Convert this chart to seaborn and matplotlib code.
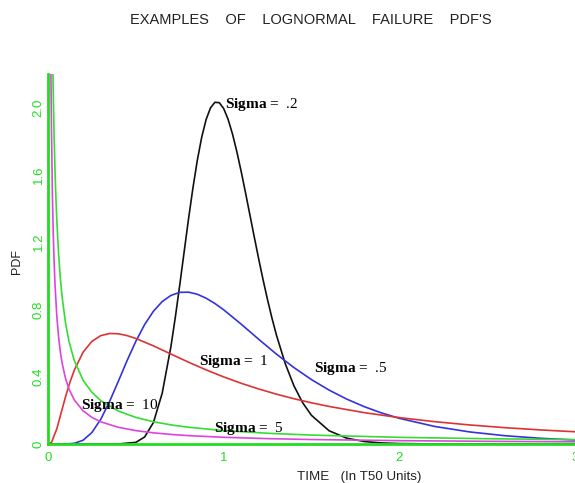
import matplotlib
matplotlib.use("Agg")
import matplotlib.pyplot as plt
import pandas as pd
import seaborn as sns

# Lognormal failure PDFs (T50 = 1), sampled along the time axis
time_s02 = [0.0, 0.4, 0.5, 0.55, 0.6, 0.65, 0.7, 0.725, 0.75, 0.775, 0.8, 0.825,
            0.85, 0.875, 0.9, 0.925, 0.95, 0.975, 1.0, 1.025, 1.05, 1.075, 1.1,
            1.125, 1.15, 1.175, 1.2, 1.225, 1.25, 1.275, 1.3, 1.35, 1.4, 1.45,
            1.5, 1.6, 1.7, 1.8, 1.9, 2.0, 2.2, 3.0]
pdf_s02 = [0.0, 0.0001, 0.0098, 0.0416, 0.1275, 0.3016, 0.5810, 0.7553, 0.9452,
           1.1425, 1.3385, 1.5223, 1.6871, 1.8242, 1.9289, 1.9986, 2.0317, 2.0295,
           1.9947, 1.9313, 1.8441, 1.7381, 1.6188, 1.4908, 1.3587, 1.2265, 1.0973,
           0.9733, 0.8566, 0.7481, 0.6489, 0.4793, 0.3459, 0.2449, 0.1702, 0.0788,
           0.0348, 0.0148, 0.0061, 0.0025, 0.0004, 0.0]

time_s05 = [0.0, 0.1, 0.15, 0.2, 0.25, 0.3, 0.35, 0.4, 0.45, 0.5, 0.55, 0.6, 0.65,
            0.7, 0.75, 0.8, 0.85, 0.9, 0.95, 1.0, 1.1, 1.2, 1.3, 1.4, 1.5, 1.6,
            1.7, 1.8, 1.9, 2.0, 2.2, 2.4, 2.6, 2.8, 3.0]
pdf_s05 = [0.0, 0.0002, 0.0040, 0.0225, 0.0684, 0.1464, 0.2514, 0.3720, 0.4954,
           0.6104, 0.7100, 0.7891, 0.8469, 0.8837, 0.9016, 0.9028, 0.8904, 0.8670,
           0.8355, 0.7979, 0.7123, 0.6222, 0.5348, 0.4544, 0.3828, 0.3206, 0.2672,
           0.2221, 0.1842, 0.1526, 0.1046, 0.0718, 0.0494, 0.0342, 0.0238]

time_s1 = [0.0, 0.02, 0.05, 0.075, 0.1, 0.125, 0.15, 0.2, 0.25, 0.3, 0.35, 0.4,
           0.45, 0.5, 0.6, 0.7, 0.8, 0.9, 1.0, 1.1, 1.2, 1.3, 1.4, 1.5, 1.6, 1.8,
           2.0, 2.2, 2.4, 2.6, 2.8, 3.0]
pdf_s1 = [0.0, 0.0095, 0.0898, 0.1857, 0.2816, 0.3674, 0.4399, 0.5463, 0.6104,
          0.6442, 0.6570, 0.6555, 0.6445, 0.6275, 0.5836, 0.5348, 0.4864, 0.4408,
          0.3989, 0.3610, 0.3270, 0.2965, 0.2693, 0.2450, 0.2233, 0.1865, 0.1569,
          0.1329, 0.1133, 0.0972, 0.0839, 0.0727]

time_s5 = [0.025, 0.03, 0.035, 0.04, 0.045, 0.05, 0.06, 0.07, 0.08, 0.1, 0.12,
           0.15, 0.2, 0.25, 0.3, 0.4, 0.5, 0.6, 0.7, 0.8, 1.0, 1.25, 1.5, 2.0,
           2.5, 3.0]
pdf_s5 = [2.431, 2.080, 1.8208, 1.6215, 1.4628, 1.3336, 1.1351, 0.9895, 0.8779,
          0.7176, 0.6077, 0.4950, 0.3788, 0.3071, 0.2584, 0.1961, 0.1580, 0.1323,
          0.1137, 0.0996, 0.0798, 0.0638, 0.0530, 0.0395, 0.0314, 0.0260]

time_s10 = [0.015, 0.0175, 0.02, 0.025, 0.03, 0.035, 0.04, 0.05, 0.06, 0.07, 0.08,
            0.1, 0.12, 0.15, 0.2, 0.25, 0.3, 0.4, 0.5, 0.6, 0.7, 0.8, 1.0, 1.25,
            1.5, 2.0, 2.5, 3.0]
pdf_s10 = [2.435, 2.1005, 1.8477, 1.4908, 1.2505, 1.0776, 0.9470, 0.7629, 0.6391,
           0.5501, 0.4830, 0.3885, 0.3251, 0.2612, 0.1969, 0.1580, 0.1320, 0.0993,
           0.0796, 0.0664, 0.0570, 0.0498, 0.0399, 0.0319, 0.0266, 0.0199, 0.0159,
           0.0132]

sigma_labels = [".2", ".5", "1", "5", "10"]
curve_colors = ["#111111", "#3333dd", "#dd3333", "#33dd33", "#dd44dd"]

# label anchor for each curve (data units), same order as sigma_labels
label_x = [1.01, 1.516, 0.86, 0.946, 0.188]
label_y = [2.02, 0.45, 0.49, 0.095, 0.23]

title_text = "EXAMPLES    OF    LOGNORMAL    FAILURE    PDF'S"
x_label = "TIME   (In T50 Units)"
y_label = "PDF"
x_major = [0, 1, 2, 3]
y_major = [0, 0.4, 0.8, 1.2, 1.6, 2.0]
y_major_text = ["0", "0.4", "0.8", "1.2", "1.6", "2.0"]

frames = []
for lab, t, f in zip(sigma_labels,
                     [time_s02, time_s05, time_s1, time_s5, time_s10],
                     [pdf_s02, pdf_s05, pdf_s1, pdf_s5, pdf_s10]):
    frames.append(pd.DataFrame({"time": t, "pdf": f, "sigma": lab}))
df = pd.concat(frames, ignore_index=True)

sns.set_style("white")
plt.rcParams["font.family"] = ["Liberation Sans", "DejaVu Sans"]
plt.rcParams["mathtext.fontset"] = "custom"
plt.rcParams["mathtext.rm"] = "Liberation Serif"
plt.rcParams["mathtext.bf"] = "Liberation Serif:bold"

axis_green = "#22dd22"

fig = plt.figure(figsize=(5.75, 4.83), dpi=100)
ax = fig.add_axes([48 / 575, 39 / 483, 527 / 575, 370 / 483])

sns.lineplot(data=df, x="time", y="pdf", hue="sigma", hue_order=sigma_labels,
             palette=dict(zip(sigma_labels, curve_colors)), estimator=None,
             sort=False, legend=False, linewidth=1.2, ax=ax)

ax.set_xlim(0, 3)
ax.set_ylim(0, 2.2)
ax.set_xlabel("")
ax.set_ylabel("")

for side in ["top", "right"]:
    ax.spines[side].set_visible(False)
for side in ["left", "bottom"]:
    ax.spines[side].set_color(axis_green)
    ax.spines[side].set_linewidth(2)

ax.set_xticks(x_major)
ax.set_xticklabels([str(v) for v in x_major])
ax.set_xticks([0.5, 1.5, 2.5], minor=True)
ax.set_yticks(y_major)
ax.set_yticklabels(y_major_text, rotation=90, va="center")
ax.set_yticks([0.2, 0.6, 1.0, 1.4, 1.8], minor=True)
ax.tick_params(which="both", direction="in", color=axis_green, length=7,
               width=1.2, labelcolor=axis_green, labelsize=9.5)
ax.tick_params(axis="x", pad=6)
ax.tick_params(axis="y", pad=2.4)

for lab, lx, ly in zip(sigma_labels, label_x, label_y):
    ax.text(lx, ly, r"$\mathbf{Sigma}$ =  " + lab, fontsize=11,
            family="Liberation Serif", ha="left", va="center", color="black")

fig.text(311 / 575, 1 - 20 / 483, title_text, ha="center", va="center",
         fontsize=10.5, color="#222222")
fig.text(359 / 575, 1 - 477 / 483, x_label, ha="center", va="center",
         fontsize=9.6, color="#222222")
fig.text(17 / 575, 1 - 262 / 483, y_label, ha="center", va="center",
         rotation=90, fontsize=9, color="#222222")

fig.savefig("out.png", dpi=100)
